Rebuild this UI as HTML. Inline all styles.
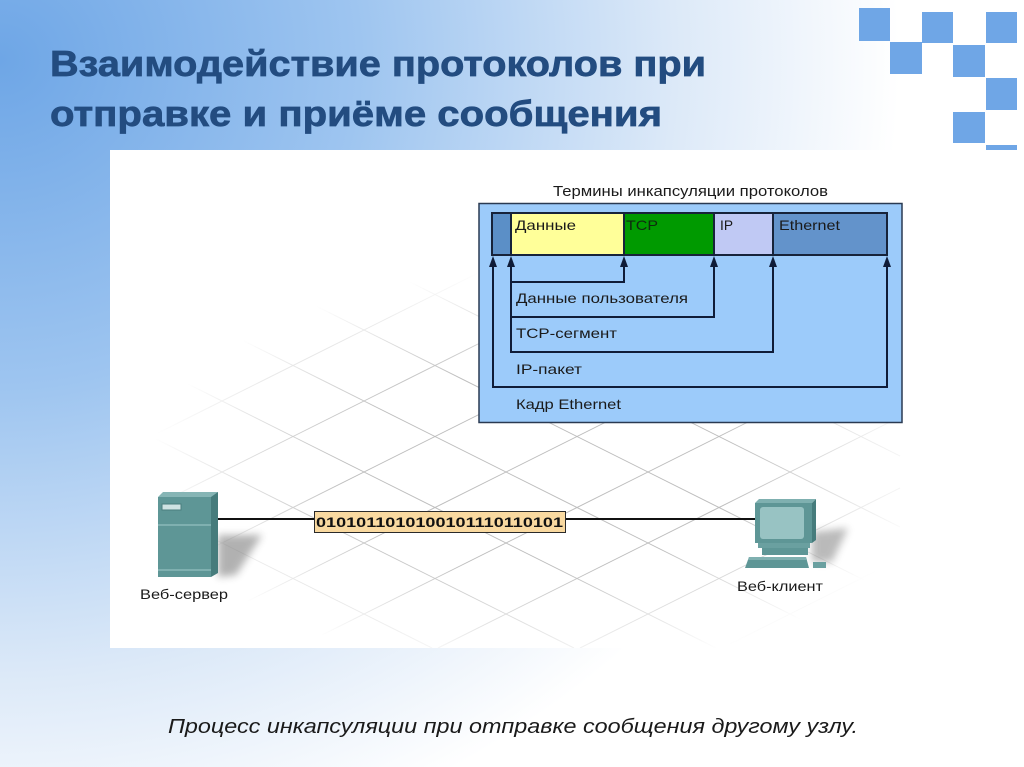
<!DOCTYPE html>
<html>
<head>
<meta charset="utf-8">
<style>
html,body{margin:0;padding:0;width:1024px;height:767px;overflow:hidden;background:#fff;}
svg{display:block;overflow:hidden;}
</style>
</head>
<body>
<svg width="1024" height="767" viewBox="0 0 1024 767" xmlns="http://www.w3.org/2000/svg">
  <defs>
    <radialGradient id="bg" cx="0" cy="60" r="1" gradientUnits="userSpaceOnUse" gradientTransform="translate(0 60) scale(900 820) translate(0 -60)">
      <stop offset="0" stop-color="#6ea6e6"/>
      <stop offset="0.4" stop-color="#9ec5f0"/>
      <stop offset="0.75" stop-color="#dce9f8"/>
      <stop offset="1" stop-color="#ffffff"/>
    </radialGradient>
    <radialGradient id="gridfade" cx="540" cy="470" r="1" gradientUnits="userSpaceOnUse" gradientTransform="translate(540 470) scale(390 200) translate(-540 -470)">
      <stop offset="0" stop-color="#fff"/>
      <stop offset="0.5" stop-color="#fff"/>
      <stop offset="1" stop-color="#000"/>
    </radialGradient>
    <mask id="gm">
      <rect x="110" y="150" width="910" height="498" fill="url(#gridfade)"/>
    </mask>
    <filter id="blur" x="-50%" y="-50%" width="200%" height="200%">
      <feGaussianBlur stdDeviation="4"/>
    </filter>
  </defs>

  <!-- background -->
  <rect x="0" y="0" width="1024" height="767" fill="url(#bg)"/>

  <!-- corner squares -->
  <g fill="#6fa6e6">
    <rect x="859" y="8" width="31" height="33"/>
    <rect x="890" y="42" width="32" height="32"/>
    <rect x="922" y="12" width="31" height="31"/>
    <rect x="986" y="12" width="31" height="31"/>
    <rect x="953" y="45" width="32" height="32"/>
    <rect x="986" y="78" width="31" height="32"/>
    <rect x="953" y="112" width="32" height="31"/>
    <rect x="986" y="145" width="31" height="32"/>
  </g>

  <!-- title -->
  <g font-family="'Liberation Sans', 'DejaVu Sans', sans-serif" font-weight="bold" font-size="36" fill="#234c80" stroke="#234c80" stroke-width="0.7">
    <text x="50" y="76" textLength="656" lengthAdjust="spacingAndGlyphs">Взаимодействие протоколов при</text>
    <text x="50" y="126" textLength="612" lengthAdjust="spacingAndGlyphs">отправке и приёме сообщения</text>
  </g>

  <!-- white panel -->
  <rect x="110" y="150" width="910" height="498" fill="#ffffff"/>

  <!-- grid -->
  <g mask="url(#gm)" stroke="#bdbdbd" stroke-width="1" fill="none">
    <line x1="732" y1="230" x2="900" y2="314"/>
    <line x1="590" y1="230" x2="900" y2="385"/>
    <line x1="448" y1="230" x2="900" y2="456"/>
    <line x1="306" y1="230" x2="900" y2="527"/>
    <line x1="164" y1="230" x2="900" y2="598"/>
    <line x1="150" y1="294" x2="858" y2="648"/>
    <line x1="150" y1="365" x2="716" y2="648"/>
    <line x1="150" y1="436" x2="574" y2="648"/>
    <line x1="150" y1="507" x2="432" y2="648"/>
    <line x1="150" y1="578" x2="290" y2="648"/>
    <line x1="150" y1="295" x2="280" y2="230"/>
    <line x1="150" y1="366" x2="422" y2="230"/>
    <line x1="150" y1="437" x2="564" y2="230"/>
    <line x1="150" y1="508" x2="706" y2="230"/>
    <line x1="150" y1="579" x2="848" y2="230"/>
    <line x1="154" y1="648" x2="900" y2="275"/>
    <line x1="296" y1="648" x2="900" y2="346"/>
    <line x1="438" y1="648" x2="900" y2="417"/>
    <line x1="580" y1="648" x2="900" y2="488"/>
    <line x1="722" y1="648" x2="900" y2="559"/>
  </g>

  <!-- encapsulation box -->
  <text x="553" y="196" font-family="'Liberation Sans', 'DejaVu Sans', sans-serif" font-size="15" fill="#1a1a1a" textLength="275" lengthAdjust="spacingAndGlyphs">Термины инкапсуляции протоколов</text>
  <rect x="479" y="203.5" width="423" height="219" fill="#9ccbfa" stroke="#2a3a52" stroke-width="1.5"/>

  <!-- strip -->
  <rect x="492" y="213" width="19" height="42" fill="#5b8fc7"/>
  <rect x="511" y="213" width="113" height="42" fill="#ffff99"/>
  <rect x="624" y="213" width="90" height="42" fill="#009a00"/>
  <rect x="714" y="213" width="59" height="42" fill="#c0c9f4"/>
  <rect x="773" y="213" width="114" height="42" fill="#6393cb"/>
  <g stroke="#17233a" stroke-width="2" fill="none">
    <rect x="492" y="213" width="395" height="42"/>
    <line x1="511" y1="213" x2="511" y2="255"/>
    <line x1="624" y1="213" x2="624" y2="255"/>
    <line x1="714" y1="213" x2="714" y2="255"/>
    <line x1="773" y1="213" x2="773" y2="255"/>
  </g>
  <g font-family="'Liberation Sans', 'DejaVu Sans', sans-serif" font-size="14" fill="#1a1a1a">
    <text x="515" y="230" textLength="61" lengthAdjust="spacingAndGlyphs">Данные</text>
    <text x="626" y="230" textLength="32" lengthAdjust="spacingAndGlyphs" fill="#0f2a0f">TCP</text>
    <text x="720" y="230" textLength="13" lengthAdjust="spacingAndGlyphs">IP</text>
    <text x="779" y="230" textLength="61" lengthAdjust="spacingAndGlyphs">Ethernet</text>
  </g>

  <!-- brackets -->
  <g stroke="#0f1c38" stroke-width="2" fill="none">
    <polyline points="511,262 511,282 624,282 624,262"/>
    <polyline points="511,282 511,317 714,317 714,262"/>
    <polyline points="511,317 511,352 773,352 773,262"/>
    <polyline points="493,262 493,387 887,387 887,262"/>
  </g>
  <g fill="#0f1c38">
    <polygon points="493,256 489,267 497,267"/>
    <polygon points="511,256 507,267 515,267"/>
    <polygon points="624,256 620,267 628,267"/>
    <polygon points="714,256 710,267 718,267"/>
    <polygon points="773,256 769,267 777,267"/>
    <polygon points="887,256 883,267 891,267"/>
  </g>
  <g font-family="'Liberation Sans', 'DejaVu Sans', sans-serif" font-size="14" fill="#1a1a1a">
    <text x="516" y="303" textLength="172" lengthAdjust="spacingAndGlyphs">Данные пользователя</text>
    <text x="516" y="338" textLength="101" lengthAdjust="spacingAndGlyphs">TCP-сегмент</text>
    <text x="516" y="374" textLength="66" lengthAdjust="spacingAndGlyphs">IP-пакет</text>
    <text x="516" y="409" textLength="105" lengthAdjust="spacingAndGlyphs">Кадр Ethernet</text>
  </g>

  <!-- connection line -->
  <line x1="218" y1="519" x2="758" y2="519" stroke="#111" stroke-width="2"/>
  <rect x="314.5" y="511.5" width="251" height="21" fill="#f9d9a0" stroke="#2a2a2a" stroke-width="1"/>
  <text x="316" y="527" font-family="'Liberation Sans', 'DejaVu Sans', sans-serif" font-size="14" font-weight="bold" fill="#111" textLength="247" lengthAdjust="spacingAndGlyphs">0101011010100101110110101</text>

  <!-- server -->
  <polygon points="218,535 262,535 236,575 218,577" fill="#555" opacity="0.45" filter="url(#blur)"/>
  <polygon points="158,497 163,492 218,492 213,497" fill="#86b5b5"/>
  <rect x="158" y="497" width="53" height="80" fill="#5e9696"/>
  <polygon points="211,497 218,492 218,573 211,577" fill="#467c7c"/>
  <rect x="158" y="524" width="53" height="2" fill="#7fb0b0"/>
  <rect x="158" y="569" width="53" height="2" fill="#7fb0b0"/>
  <rect x="162" y="504" width="19" height="6" fill="#cfe3e3" stroke="#4a7e7e" stroke-width="1"/>
  <text x="140" y="599" font-family="'Liberation Sans', 'DejaVu Sans', sans-serif" font-size="14" fill="#1a1a1a" textLength="88" lengthAdjust="spacingAndGlyphs">Веб-сервер</text>

  <!-- client -->
  <polygon points="812,532 848,528 832,562 812,562" fill="#555" opacity="0.4" filter="url(#blur)"/>
  <polygon points="755,503 759,499 816,499 812,503" fill="#7fb0b0"/>
  <rect x="755" y="503" width="57" height="40" fill="#5e9696"/>
  <polygon points="812,503 816,499 816,540 812,543" fill="#467c7c"/>
  <rect x="760" y="507" width="44" height="32" rx="3" fill="#98c3c3"/>
  <rect x="758" y="543" width="52" height="5" fill="#6aa0a0"/>
  <rect x="762" y="548" width="46" height="7" fill="#5e9696"/>
  <polygon points="749,557 806,557 809,568 745,568" fill="#5e9696"/>
  <polygon points="749,557 806,557 807,560 748,560" fill="#7fb0b0"/>
  <rect x="813" y="562" width="13" height="6" fill="#6aa0a0"/>
  <text x="737" y="591" font-family="'Liberation Sans', 'DejaVu Sans', sans-serif" font-size="14" fill="#1a1a1a" textLength="86" lengthAdjust="spacingAndGlyphs">Веб-клиент</text>

  <!-- caption -->
  <text x="168" y="733" font-family="'Liberation Sans', 'DejaVu Sans', sans-serif" font-style="italic" font-size="20" fill="#1a1a1a" textLength="690" lengthAdjust="spacingAndGlyphs">Процесс инкапсуляции при отправке сообщения другому узлу.</text>
</svg>
</body>
</html>
